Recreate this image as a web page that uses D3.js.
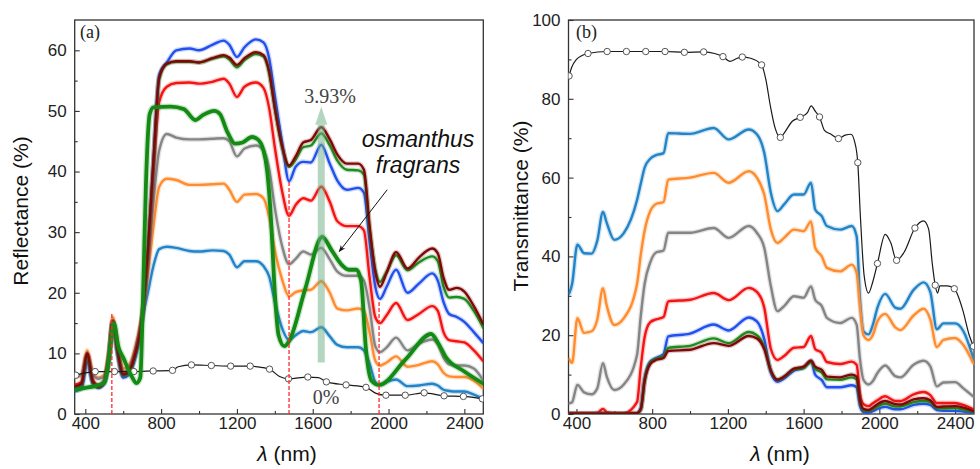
<!DOCTYPE html>
<html><head><meta charset="utf-8">
<script src="https://cdn.jsdelivr.net/npm/d3@7"></script>
<style>
body{margin:0;background:#fff}
text{font-family:"Liberation Sans",Arial,sans-serif}
text.serif{font-family:"Liberation Serif","Times New Roman",serif}
</style></head>
<body><svg id="c" width="980" height="469"></svg>
<script>
// ---------- Panel (a): reflectance ----------
const wlA = [345,380,410,440,470,500,525,545,570,600, 630,660,700,730,760,790,830,880,950,1000, 1070,1130,1160,1200,1240,1300,1340,1370,1400,1440, 1475,1510,1550,1590,1645,1690,1730,1780,1840,1870, 1900,1930,1955,1990,2040,2100,2160,2230,2260,2290, 2320,2360,2400,2450,2500];
const reflLightBlue = [3.8,4.3,9,5,4.5,5.2,9.2,15,10,6.2, 6.8,9,15.5,20,24.5,27.2,27.6,27.4,26.9,26.8, 27,26.9,26.3,24.2,25.2,25.2,24.4,22.7,18.5,14, 12.2,13,13.7,13.5,14.3,12.8,11.4,11,11,10.5, 8.3,5.3,4.8,5.3,5.7,4.6,4.7,5,4.7,4, 3.8,3.7,3.7,3.2,2.5];
const reflOrange = [6,6.5,10.5,6.8,6,6.5,10.5,16,11.5,7.5, 8,10.5,16.5,23,31,37.5,38.8,38.6,37.8,37.8, 37.9,38,37,35,36.2,36.3,35.6,32.5,27,22, 19.4,20.1,20.4,20.5,21.9,20,17.4,17.1,17.4,17, 13.5,8.8,8,8.5,9.5,7.8,8.1,8.7,8.2,6.8, 6.2,6.1,6.1,5.5,4.2];
const reflGray = [6.2,6.5,10,6.5,5.8,6.2,10,15.5,11,7, 7.6,10.3,16.2,24,35,43.5,46.2,45.6,45.3,45.3, 45.4,45.5,45,42.5,43.8,44.3,43.5,40.5,34,27.5, 24.7,25.6,26.8,26.3,27.4,25.5,23.5,22.8,22.8,22, 17.5,11.2,10.2,11,12.6,10.5,11.6,12.3,11.5,9.3, 8.2,8,8,7.5,5.5];
const reflRed = [4.8,5.3,9.8,5.6,4.8,5.5,9.7,15.3,10.6,6.6, 7.1,9.8,16,25.5,40,51.5,54,54.6,54.7,54.5, 54.8,55.3,54.5,52.3,54,54.7,53.8,50.5,44,36.5, 32.7,34.5,35.6,35.2,37.5,35,31.8,31,31,30.3, 22.5,16,15,16.3,18.3,15.5,16.5,17.8,17,13.5, 12.2,12,11.8,10.5,8.7];
const reflBlue = [3.8,4.2,8.8,5,4.3,5,9,15,10,6, 6.5,9,15.5,27,42,56,58,60,60.3,60, 60.9,61.6,60.9,58.9,60.5,61.8,61.3,58.7,52.5,44.5, 38.4,40.8,41.6,41.5,44.4,41.3,38.5,37,37.3,36.5, 28.5,21,19,21,23.8,20,21.5,23.2,22,18.5, 16.5,16,15.2,13.5,11.7];
const reflGreen = [4.3,4.8,9.5,5.2,4.4,5.2,9.3,15,10.3,6.3, 6.8,9.3,15.8,26.5,41.5,55.3,57.7,58.1,58.1,58, 58.6,59,58.5,57.2,58.4,59.4,59,56.3,50.3,43.8, 40.8,42,44,44.3,46.3,44.3,41.8,40.3,40.2,39.5, 30.5,23.8,21.8,23.5,26.2,23.7,25,26,25.2,21, 19.2,19.3,19,17,14.2];
const reflMaroon = [4.5,5,10,5.3,4.5,5.3,9.5,15.3,10.5,6.5, 7,9.5,16,27,42,55.5,57.8,58.2,58.2,58, 58.7,59.2,58.8,57.6,58.7,59.7,59.2,56.5,50.5,44, 41,42.5,44.8,45.2,47.3,45.3,42.8,41.3,41.3,40.3, 31,23.5,21,23.3,26.7,24,25.8,27.3,26.5,22.5, 20.5,20.8,20.2,17.8,14.8];
// osmanthus fragrans (thick green)
const wlOsm = [345,400,450,500,520,535,550,575,600,645, 670,690,705,720,740,760,850,920,980,1020, 1080,1110,1150,1190,1230,1280,1310,1340,1360,1380, 1400,1420,1450,1475,1560,1650,1700,1750,1790,1830, 1855,1880,1910,1950,2090,2225,2260,2300,2400,2500];
const reflOsm = [4,4.3,4.6,5.2,8,12,15,11,9.3,6.2, 5.1,6,20,38,49.5,50.6,50.7,50.3,48.5,49.3, 50,49.5,46.5,44.6,44.8,45.7,45.3,43.5,40,32, 20,13,11.2,12,20.6,29.2,27,24.7,23.8,23.8, 22,11,5.5,4.8,9,13.2,11.8,9.5,7,5];
// 0% reference (black with circles)
const wlRefA = [350,452,554,656,758,860,890,960,1065,1167, 1270,1330,1372,1425,1472,1574,1630,1672,1776,1881, 1934,1986,2088,2188,2293,2395,2495];
const reflRefA = [6.4,7,7,7,7.1,7.2,7.8,8.1,8,7.9, 7.9,7.7,7.4,6.2,5.8,6.1,6,5.3,4.8,4.4, 3.4,3.1,3.1,3.5,3,2.9,2.5];
const markRefA = [1,1,1,1,1,1,0,1,1,1, 1,0,1,0,1,1,0,1,1,1, 0,1,1,1,1,1,1];
const dashWl = [540,1475,1950];
const dashTop = [16.8,38.3,18.5];

// ---------- Panel (b): transmittance ----------
const wlB = [361,377,405,440,480,510,540,560,600,650, 720,740,760,790,820,860,885,1000,1125,1204, 1310,1353,1392,1427,1462,1497,1549,1600,1639,1661, 1696,1723,1793,1854,1880,1898,1916,1943,1965,1990, 2031,2084,2111,2181,2234,2269,2304,2339,2400,2444, 2497];
const transLightBlue = [30.5,33,43,40.8,40.7,44,51.3,48.5,44.2,45.9, 54.3,58.5,62.5,64.8,65.7,66.2,71.3,71.1,72.6,69.7, 72.2,71,66.3,56.1,51.5,53.2,55.7,55.7,58.7,51.9, 50.2,47.7,46.8,47.7,45.1,29,21,20.2,22.5,27, 30.5,27,26.7,31.5,33.4,31,21.5,23,23,21, 14];
const transOrange = [14,13,24.3,20.6,21,24,31.9,27.5,22.6,24.3, 33,40.5,46.5,51.5,53.3,53.8,59.5,60,61.2,58.7, 61.6,60,55.7,46.8,43.4,44.7,46.8,46.4,48.9,42.2, 40,37.1,36.2,37.9,35.8,27,20,18.8,20,23.5, 25.4,22,21.3,25,26.7,24,17,18.8,19.3,17.5, 12.8];
const transGray = [2.7,3,7.4,5.5,5,6.5,12.9,9.5,6.1,7.5, 15,25,33,38.5,41,41.5,46,46,47.2,44.7, 47.7,46,42.2,32.4,26.1,27.4,29.9,29.5,32.4,29, 27.4,24.4,23.1,24.4,22.7,13.8,8.7,7.5,8.3,10.4, 12.3,9.6,9.3,12.5,13.5,12.1,7,8,8.1,6.5, 4.4];
const transRed = [0.2,0.2,0.2,0.2,0.2,0.3,1.3,0.5,0.2,0.2, 3,12,19.5,23.3,24,24.6,28.6,29,30.7,28.9, 32,31,27,16.5,13.7,14.7,16.8,17,19.8,16.5, 15.5,13.2,12.7,13.3,12.5,5,2.5,2,2.7,3.5, 4.5,3.3,3.3,5,5.6,4.8,2.8,2.8,2.8,2.3, 1.2];
const transBlue = [0.1,0.1,0.1,0.1,0.1,0.1,0.2,0.1,0.1,0.1, 0.2,1.5,9,13.3,14.2,15.2,19.7,20.4,22.7,21.2, 24.5,23.5,19,10.5,8.2,9,11,11.7,13.5,10, 8.6,6.8,6.8,7.3,6.8,2,0.5,0.3,0.7,1.3, 1.8,1.2,1.2,2.3,2.6,2.3,1,0.8,0.8,0.6, 0.2];
const transGreen = [0.1,0.1,0.1,0.1,0.1,0.1,0.1,0.1,0.1,0.1, 0.2,1.3,8.7,13,14,14.6,16.8,17.3,19.2,18, 20.8,20,17,11,8.7,9.4,11.3,11.7,13.2,11.5, 10.5,8.8,8.7,9.3,8.8,3,1,0.8,1.2,1.9, 2.6,1.9,1.9,3,3.3,3,1.5,1.4,1.5,1.1, 0.5];
const transMaroon = [0.1,0.1,0.1,0.1,0.1,0.1,0.1,0.1,0.1,0.1, 0.2,1.2,8.3,12.7,13.7,14.2,16,16.3,18,17.3, 19.8,19.2,16.5,11,8.7,9.5,11.5,12,13.5,12, 11.2,9.5,9.3,10,9.5,3.5,1.3,1,1.6,2.5, 3.3,2.5,2.4,3.7,4,3.5,1.8,1.9,2,1.6, 0.7];
const wlRefB = [361,375,400,430,461,562,664,766,868,970, 1072,1130,1174,1210,1250,1276,1320,1378,1400,1425, 1450,1477,1500,1540,1582,1620,1640,1662,1684,1710, 1745,1784,1820,1850,1870,1886,1900,1920,1943,1965, 1990,2031,2060,2091,2130,2188,2233,2260,2280,2295, 2307,2320,2360,2396,2440,2475,2497];
const transRefB = [85.8,88,90,91,91.5,92,92,92,92,91.8, 91.9,91.5,90.7,89.5,90.3,90.6,90.3,88.6,85,78, 72.5,70.2,71.5,74.3,75.3,76.5,78.2,76.8,75.4,72, 71,69.9,70.8,71,69,63.8,50,35,30.7,33.5, 38.2,45.6,43.5,39,41,47.2,49,47,38,32.7, 30.7,32.5,32.5,31.8,26.5,20,17.2];
const markRefB = [1,0,0,0,1,1,1,1,1,1, 1,0,1,0,0,1,0,1,0,0, 0,1,0,0,1,0,0,0,1,0, 0,1,0,0,0,1,0,0,0,0, 1,0,0,1,0,1,0,0,0,1, 0,0,0,1,0,0,1];

const xMajor = [400,800,1200,1600,2000,2400];
const xMinor = [600,1000,1400,1800,2200];
const yMajorA = [0,10,20,30,40,50,60];
const yMinorA = [5,15,25,35,45,55];
const yMajorB = [0,20,40,60,80,100];
const yMinorB = [10,30,50,70,90];

const C = {lightblue:"#2283c6", orange:"#ff8c2e", gray:"#858585", red:"#f41414",
  blue:"#2250ee", green:"#1e8c1e", maroon:"#7e0808", osm:"#138a13"};

const svg = d3.select("#c");

function makeAxes(g, x, y, yMaj, yMin, id){
  const by = y.range()[0], lx = x.range()[0];
  const style = s => s.attr("font-size",17).attr("color","#222");
  g.append("g").attr("transform",`translate(0,${by})`)
    .call(d3.axisBottom(x).tickValues(xMinor).tickSize(-3).tickFormat(""))
    .call(s=>s.select(".domain").remove()).call(style);
  g.append("g").attr("transform",`translate(0,${by})`)
    .call(d3.axisBottom(x).tickValues(xMajor).tickSize(-5).tickPadding(3).tickFormat(d3.format("d")))
    .call(s=>s.select(".domain").remove()).call(style);
  g.append("g").attr("transform",`translate(${lx},0)`)
    .call(d3.axisLeft(y).tickValues(yMin).tickSize(-3).tickFormat(""))
    .call(s=>s.select(".domain").remove()).call(style);
  g.append("g").attr("transform",`translate(${lx},0)`)
    .call(d3.axisLeft(y).tickValues(yMaj).tickSize(-5).tickPadding(8).tickFormat(d3.format("d")))
    .call(s=>s.select(".domain").remove()).call(style);
  g.selectAll(".tick line").attr("stroke","#333").attr("stroke-width",1.1);
  const [x0,x1]=x.range(), [y0,y1]=y.range();
  g.append("rect").attr("x",x0).attr("y",y1).attr("width",x1-x0).attr("height",y0-y1)
    .attr("fill","none").attr("stroke","#333").attr("stroke-width",1.3);
  svg.append("clipPath").attr("id",id).append("rect")
    .attr("x",x0).attr("y",y1).attr("width",x1-x0).attr("height",y0-y1);
}

function drawSeries(g, x, y, wl, vals, color, w){
  const data = wl.map((d,i)=>[d,vals[i]]);
  const line = d3.line().x(d=>x(d[0])).y(d=>y(d[1])).curve(d3.curveMonotoneX);
  g.append("path").datum(data).attr("d",line).attr("fill","none").attr("stroke",color)
    .attr("stroke-width",w+2.6).attr("stroke-opacity",0.22).attr("stroke-linejoin","round");
  g.append("path").datum(data).attr("d",line).attr("fill","none").attr("stroke",color)
    .attr("stroke-width",w).attr("stroke-linejoin","round").attr("stroke-linecap","round");
}

function drawRef(g, x, y, wl, vals, marks){
  const data = wl.map((d,i)=>[d,vals[i],marks[i]]);
  const line = d3.line().x(d=>x(d[0])).y(d=>y(d[1])).curve(d3.curveMonotoneX);
  g.append("path").datum(data).attr("d",line).attr("fill","none").attr("stroke","#1a1a1a").attr("stroke-width",1.2);
  g.selectAll(null).data(data.filter(d=>d[2])).join("circle")
    .attr("cx",d=>x(d[0])).attr("cy",d=>y(d[1])).attr("r",3.2)
    .attr("fill","#fff").attr("stroke","#555").attr("stroke-width",1);
}

// ----- Panel A -----
const xA = d3.scaleLinear().domain([344,2500]).range([74.7,483.3]);
const yA = d3.scaleLinear().domain([0,65]).range([414,20]);
const gA = svg.append("g");
makeAxes(gA, xA, yA, yMajorA, yMinorA, "clipA");
const pA = gA.append("g").attr("clip-path","url(#clipA)");
drawSeries(pA,xA,yA,wlA,reflLightBlue,C.lightblue,2.4);
drawSeries(pA,xA,yA,wlA,reflOrange,C.orange,2.4);
drawSeries(pA,xA,yA,wlA,reflGray,C.gray,2.4);
drawSeries(pA,xA,yA,wlA,reflRed,C.red,2.4);
drawSeries(pA,xA,yA,wlA,reflBlue,C.blue,2.4);
drawSeries(pA,xA,yA,wlA,reflGreen,C.green,2.4);
drawSeries(pA,xA,yA,wlA,reflMaroon,C.maroon,2.4);
drawRef(pA,xA,yA,wlRefA,reflRefA,markRefA);
drawSeries(pA,xA,yA,wlOsm,reflOsm,C.osm,3.8);
// red dashed markers
pA.selectAll(null).data(dashWl.map((d,i)=>[d,dashTop[i]])).join("line")
  .attr("x1",d=>xA(d[0])).attr("x2",d=>xA(d[0])).attr("y1",yA(0)).attr("y2",d=>yA(d[1]))
  .attr("stroke","#ff2a2a").attr("stroke-width",1.3).attr("stroke-dasharray","4,2");
// translucent green arrow
const arrowWl = 1645, arrowFrom = 8.5, arrowTo = 50.7;
pA.append("rect").attr("x",xA(arrowWl)-3.5).attr("y",yA(arrowTo-3))
  .attr("width",7).attr("height",yA(arrowFrom)-yA(arrowTo-3))
  .attr("fill","#6aab80").attr("opacity",0.5);
pA.append("path").attr("d",`M${xA(arrowWl)-6},${yA(arrowTo-3)} L${xA(arrowWl)},${yA(arrowTo)} L${xA(arrowWl)+6},${yA(arrowTo-3)} Z`)
  .attr("fill","#6aab80").attr("opacity",0.5);
// annotation arrow
const annFrom = [1993,37], annTo = [1740,26.8];
svg.append("defs").append("marker").attr("id","ah").attr("viewBox","0 0 10 10").attr("refX",9).attr("refY",5)
  .attr("markerWidth",7).attr("markerHeight",7).attr("orient","auto")
  .append("path").attr("d","M0,1 L10,5 L0,9 L3,5 Z").attr("fill","#111");
gA.append("line").attr("x1",xA(annFrom[0])).attr("y1",yA(annFrom[1])).attr("x2",xA(annTo[0])).attr("y2",yA(annTo[1]))
  .attr("stroke","#111").attr("stroke-width",1).attr("marker-end","url(#ah)");
// texts
gA.append("text").attr("class","serif").attr("x",80).attr("y",38).attr("font-size",18).attr("fill","#222").text("(a)");
gA.append("text").attr("class","serif").attr("x",330).attr("y",103).attr("text-anchor","middle").attr("font-size",20).attr("fill","#444").text("3.93%");
gA.append("text").attr("class","serif").attr("x",326).attr("y",404).attr("text-anchor","middle").attr("font-size",20).attr("fill","#444").text("0%");
gA.append("text").attr("x",418).attr("y",147).attr("text-anchor","middle").attr("font-style","italic").attr("font-size",23).attr("fill","#111").text("osmanthus");
gA.append("text").attr("x",418).attr("y",173).attr("text-anchor","middle").attr("font-style","italic").attr("font-size",23).attr("fill","#111").text("fragrans");
gA.append("text").attr("transform","translate(28,211) rotate(-90)").attr("text-anchor","middle").attr("font-size",21).attr("fill","#111").text("Reflectance  (%)");
const tA = gA.append("text").attr("x",287).attr("y",461).attr("text-anchor","middle").attr("font-size",21).attr("fill","#111");
tA.append("tspan").attr("font-style","italic").text("λ");
tA.append("tspan").text(" (nm)");

// ----- Panel B -----
const xB = d3.scaleLinear().domain([358,2500]).range([568.5,974]);
const yB = d3.scaleLinear().domain([0,100]).range([414,20]);
const gB = svg.append("g");
makeAxes(gB, xB, yB, yMajorB, yMinorB, "clipB");
const pB = gB.append("g").attr("clip-path","url(#clipB)");
drawSeries(pB,xB,yB,wlB,transLightBlue,C.lightblue,2.4);
drawSeries(pB,xB,yB,wlB,transOrange,C.orange,2.4);
drawSeries(pB,xB,yB,wlB,transGray,C.gray,2.4);
drawSeries(pB,xB,yB,wlB,transRed,C.red,2.4);
drawSeries(pB,xB,yB,wlB,transBlue,C.blue,2.4);
drawSeries(pB,xB,yB,wlB,transGreen,C.green,2.4);
drawSeries(pB,xB,yB,wlB,transMaroon,C.maroon,2.4);
drawRef(pB,xB,yB,wlRefB,transRefB,markRefB);
gB.append("text").attr("class","serif").attr("x",576).attr("y",38).attr("font-size",18).attr("fill","#222").text("(b)");
gB.append("text").attr("transform","translate(528,206) rotate(-90)").attr("text-anchor","middle").attr("font-size",21).attr("fill","#111").text("Transmittance (%)");
const tB = gB.append("text").attr("x",780).attr("y",461).attr("text-anchor","middle").attr("font-size",21).attr("fill","#111");
tB.append("tspan").attr("font-style","italic").text("λ");
tB.append("tspan").text(" (nm)");
</script>
</body></html>
